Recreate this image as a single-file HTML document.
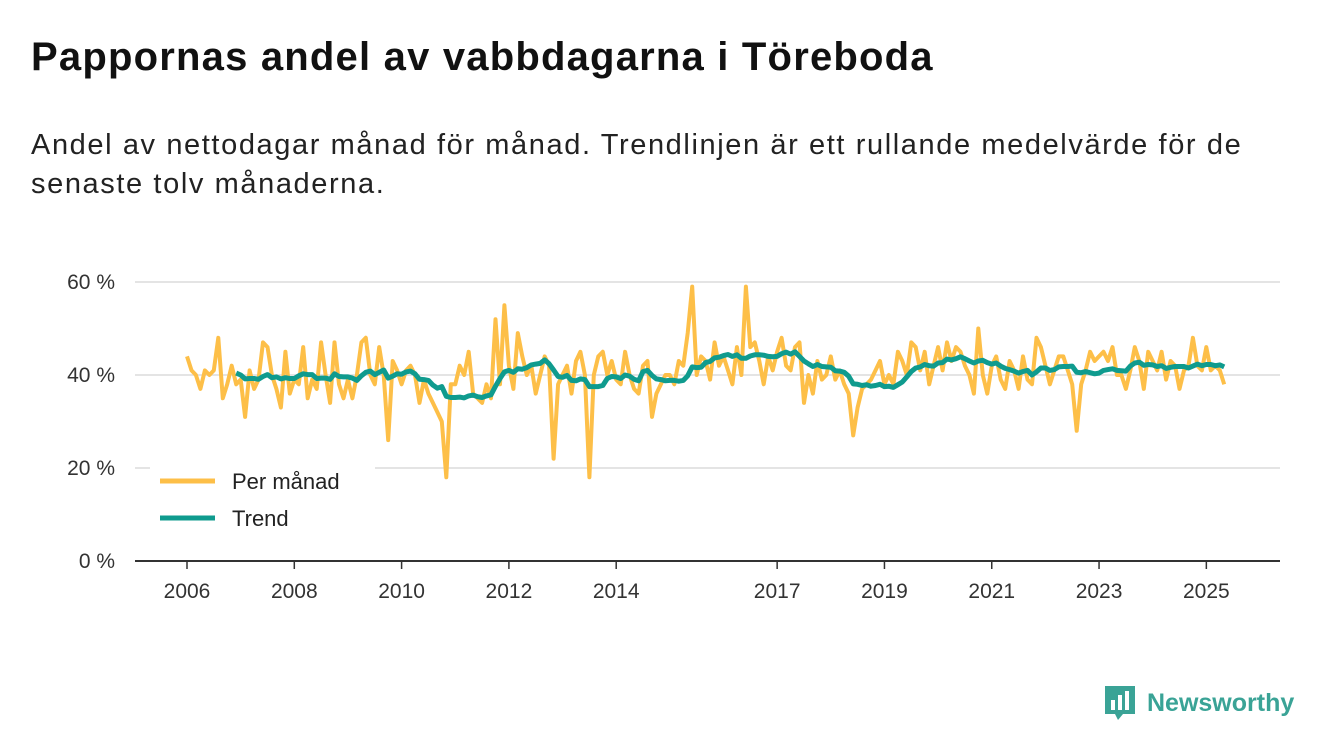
<!DOCTYPE html>
<html><head><meta charset="utf-8"><style>
body{margin:0;width:1340px;height:753px;background:#fff;font-family:"Liberation Sans","DejaVu Sans",sans-serif;overflow:hidden;position:relative;color:#111}
h1{position:absolute;left:31px;top:35px;margin:0;font-size:40px;font-weight:bold;letter-spacing:1.2px}
.sub{position:absolute;left:31px;top:126px;font-size:29px;line-height:39px;color:#222;width:1300px;letter-spacing:1.6px;white-space:nowrap}
svg{position:absolute;left:0;top:0}
</style></head><body>
<h1>Pappornas andel av vabbdagarna i Töreboda</h1>
<div class="sub">Andel av nettodagar månad för månad. Trendlinjen är ett rullande medelvärde för de<br>senaste tolv månaderna.</div>
<svg id="chart" width="1340" height="753"></svg>
<script>
const startYear = 2006;
const monthly = [
44,41,40,37,41,40,41,48,35,38,42,38,
39,31,41,37,39,47,46,40,37,33,45,36,
39,38,46,35,39,37,47,40,34,47,38,35,
39,35,40,47,48,40,38,46,40,26,43,41,
38,41,42,40,34,39,36,34,32,30,18,38,
38,42,40,45,36,35,34,38,35,52,38,55,
42,37,49,44,40,42,36,40,44,42,22,38,
40,42,36,43,45,40,18,40,44,45,40,43,
39,38,45,40,37,36,42,43,31,36,38,40,
40,38,43,42,49,59,40,44,43,39,47,42,
44,41,38,46,40,59,46,47,43,38,44,41,
45,48,42,41,46,47,34,40,36,43,39,40,
44,39,41,38,36,27,33,37,38,39,41,43,
38,40,38,45,43,40,47,46,41,45,38,42,
46,41,47,43,46,45,42,40,36,50,40,36,
42,44,39,37,43,41,37,44,39,38,48,46,
42,38,41,44,44,41,38,28,38,41,45,43,
44,45,43,46,40,40,37,41,46,43,37,45,
43,41,45,39,43,42,37,41,42,48,42,41,
46,41,42,41,38];
const yTicks = [0,20,40,60];
const yTickLabels = ['0 %','20 %','40 %','60 %'];
const xTicks = [2006,2008,2010,2012,2014,2017,2019,2021,2023,2025];

const NS='http://www.w3.org/2000/svg';
const svg=document.getElementById('chart');
const x0=187, pxYear=53.65, y0=561, pxPct=4.65;
const xs=t=>x0+(t-startYear)*pxYear;
const ys=v=>y0-v*pxPct;
function mk(tag,attrs){const e=document.createElementNS(NS,tag);for(const k in attrs)e.setAttribute(k,attrs[k]);svg.appendChild(e);return e;}

yTicks.forEach((v,i)=>{
  if(v>0){const g=mk('line',{x1:135,x2:1280,y1:ys(v),y2:ys(v),stroke:'#dcdcdc','stroke-width':1.5});
  
  }
  const t=mk('text',{x:115,y:ys(v)+7,'text-anchor':'end','font-size':21,fill:'#333'});
  t.textContent=yTickLabels[i];
  
  
});
const ax=mk('line',{x1:135,x2:1280,y1:y0,y2:y0,stroke:'#333','stroke-width':2});


xTicks.forEach(yr=>{
  const tk=mk('line',{x1:xs(yr),x2:xs(yr),y1:y0,y2:y0+8,stroke:'#333','stroke-width':1.5});
  
  
  const t=mk('text',{x:xs(yr),y:598,'text-anchor':'middle','font-size':21,fill:'#333'});
  t.textContent=yr;
  
  
});
const tAt=i=>startYear+i/12;
let d=monthly.map((v,i)=>(i?'L':'M')+xs(tAt(i)).toFixed(1)+','+ys(v).toFixed(1)).join('');
const p1=mk('path',{d:d,fill:'none',stroke:'#fdbf48','stroke-width':4,'stroke-linejoin':'round'});


const trend=[];
for(let i=11;i<monthly.length;i++){let s=0;for(let j=i-11;j<=i;j++)s+=monthly[j];trend.push([i,s/12]);}
d=trend.map((p,k)=>(k?'L':'M')+xs(tAt(p[0])).toFixed(1)+','+ys(p[1]).toFixed(1)).join('');
const p2=mk('path',{d:d,fill:'none',stroke:'#0f9b8e','stroke-width':5,'stroke-linejoin':'round'});



const lb=mk('rect',{x:150,y:462,width:225,height:75,fill:'#fff'});


[['Per månad','#fdbf48',481],['Trend','#0f9b8e',518]].forEach(e=>{
  const l=mk('line',{x1:160,x2:215,y1:e[2],y2:e[2],stroke:e[1],'stroke-width':5});
  
  
  const t=mk('text',{x:232,y:e[2]+8,'font-size':22,fill:'#222'});
  t.textContent=e[0];
  
  
});
</script>
<div style="position:absolute;left:1103px;top:684px;display:flex;align-items:center">
  <svg width="34" height="38" viewBox="0 0 34 38" style="position:static"><path d="M2 2h30v28H20l-5 6-3-6H2z" fill="#3aa396"/><rect x="8" y="16" width="4" height="10" fill="#fff"/><rect x="15" y="11" width="4" height="15" fill="#fff"/><rect x="22" y="7" width="4" height="19" fill="#fff"/></svg>
  <span style="font-size:25px;font-weight:bold;color:#3aa396;margin-left:10px">Newsworthy</span>
</div>
</body></html>
